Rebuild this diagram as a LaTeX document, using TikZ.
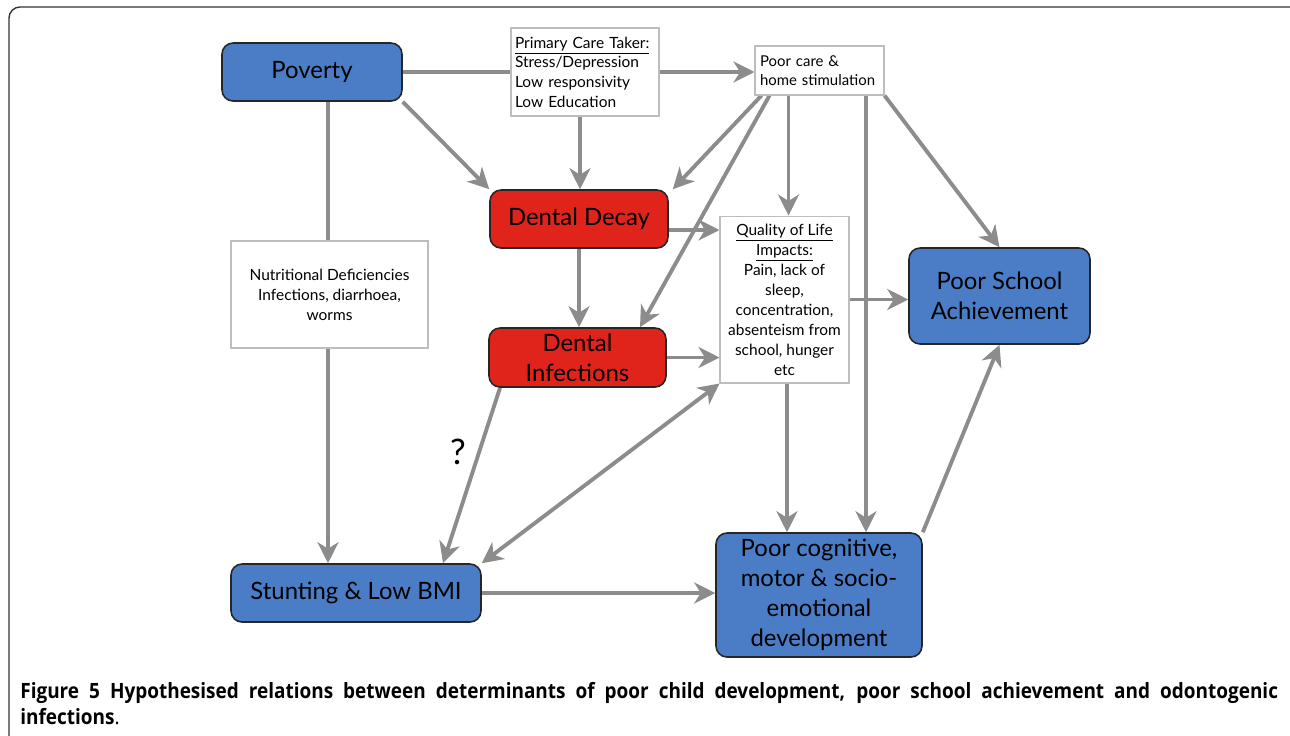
\documentclass[tikz,border=0pt]{standalone}
\usepackage{fontspec}
\setmainfont{Lato}
\newfontfamily\capfont[FakeStretch=0.9]{Open Sans}
\usepackage{xcolor}
\usetikzlibrary{arrows.meta, positioning, backgrounds}

\definecolor{boxblue}{HTML}{4A7DC6}
\definecolor{boxred}{HTML}{E0231B}
\definecolor{arrgray}{HTML}{8C8C8C}
\definecolor{framegray}{HTML}{BDBDBD}

\begin{document}
\begin{tikzpicture}[
  x=0.02cm, y=-0.02cm,
  main/.style={
    draw=black!85,
    line width=0.9pt,
    rounded corners=0.22cm,
    inner sep=2pt,
    align=center,
    font=\fontsize{13.6}{17}\selectfont
  },
  bluebox/.style={main, fill=boxblue},
  redbox/.style={main, fill=boxred},
  textbox/.style={
    draw=framegray,
    line width=0.6pt,
    fill=white,
    inner sep=0.08cm,
    font=\fontsize{8.8}{11.2}\selectfont
  },
  arr/.style={
    -{Stealth[length=0.42cm, width=0.42cm, inset=0.13cm]},
    line width=2.2pt,
    arrgray
  },
  darr/.style={
    arr,
    {Stealth[length=0.42cm, width=0.42cm, inset=0.13cm]}-{Stealth[length=0.42cm, width=0.42cm, inset=0.13cm]}
  }
]

\useasboundingbox (0,0) rectangle (1290,735);

% Boxes
\node [bluebox, minimum width=3.6cm, minimum height=1.16cm] (pov) at (312,72) {Poverty};
\node [textbox, minimum width=2.96cm, minimum height=1.76cm, text width=2.8cm, align=left] (pct) at (585,72)
  {\underline{Primary Care Taker:}\\Stress/Depression\\Low responsivity\\Low Education};
\node [textbox, minimum width=2.58cm, minimum height=0.98cm, inner xsep=0.1cm, text width=2.38cm, align=left,
       font=\fontsize{8.5}{11.2}\selectfont] (care) at (819.5,70.5)
  {Poor care \&\\home stimulation};
\node [redbox, minimum width=3.56cm, minimum height=1.16cm] (decay) at (579,219) {Dental Decay};
\node [textbox, minimum width=3.94cm, minimum height=2.14cm, align=center, font=\fontsize{8.8}{11.4}\selectfont] (nutr) at (329.5,294.5)
  {Nutritional Deficiencies\\Infections, diarrhoea,\\worms};
\node [textbox, minimum width=2.58cm, minimum height=3.34cm, align=center, font=\fontsize{8.8}{11.4}\selectfont] (qol) at (784.5,299.5)
  {\underline{Quality of Life}\\\underline{Impacts:}\\Pain, lack of\\sleep,\\concentration,\\absenteism from\\school, hunger\\etc};
\node [redbox, minimum width=3.54cm, minimum height=1.18cm] (infect) at (577.5,357.5)
  {Dental\\Infections};
\node [bluebox, minimum width=3.62cm, minimum height=1.92cm] (school) at (999.5,296)
  {Poor School\\Achievement};
\node [bluebox, minimum width=5.0cm, minimum height=1.16cm] (stunt) at (356,593)
  {Stunting \& Low BMI};
\node [bluebox, minimum width=4.12cm, minimum height=2.48cm] (cog) at (819,595)
  {Poor cognitive,\\motor \& socio-\\emotional\\development};

% Question mark
\node [font=\fontsize{20}{20}\selectfont] (qm) at (458,452) {?};

% Caption
\node [anchor=north west, inner sep=0pt, text width=25.16cm, align=justify,
       font=\capfont\fontsize{12}{14.8}\selectfont] (cap) at (20,682)
  {\textbf{Figure 5 Hypothesised relations between determinants of poor child development, poor school achievement and odontogenic\linebreak infections}.};

% Arrows
\begin{pgfonlayer}{background}
\draw [black!80, line width=0.8pt, rounded corners=0.22cm] (9,7) rectangle (1310,760);
\draw [arr] (pov.east) -- (care.west |- pov.east);
\draw [arr] (pov.south east) -- (decay.north west);
\draw [arr] ([xshift=0.32cm]pov.south) -- ([xshift=0.32cm]pov.south |- stunt.north);
\draw [arr] ([xshift=-0.1cm]pct.south) -- ([xshift=-0.1cm]pct.south |- decay.north);
\draw [arr] ([xshift=0.14cm]care.south west) -- ([xshift=0.08cm]decay.north east);
\draw [arr] ([xshift=0.3cm]care.south west) -- ([xshift=1.25cm]infect.north);
\draw [arr] ([xshift=-0.62cm]care.south) -- ([xshift=-0.62cm]care.south |- qol.north);
\draw [arr] ([xshift=0.93cm]care.south) -- ([xshift=0.93cm]care.south |- cog.north);
\draw [arr] (care.south east) -- (school.north);
\draw [arr] ([yshift=-0.22cm]decay.east) -- ([yshift=-0.22cm]qol.west |- decay.east);
\draw [arr] (decay.south) -- (decay.south |- infect.north);
\draw [arr] (infect.east) -- (qol.west |- infect.east);
\draw [arr] (qol.east) -- (qol.east -| school.west);
\draw [arr] ([xshift=-1.55cm]infect.south) -- ([xshift=1.74cm]stunt.north);
\draw [darr] (stunt.north east) -- (qol.south west);
\draw [arr] ([xshift=0.05cm]qol.south) -- ([xshift=0.05cm]qol.south |- cog.north);
\draw [arr] (stunt.east) -- (cog.west |- stunt.east);
\draw [arr] (cog.north east) -- (school.south);
\end{pgfonlayer}

\end{tikzpicture}
\end{document}
